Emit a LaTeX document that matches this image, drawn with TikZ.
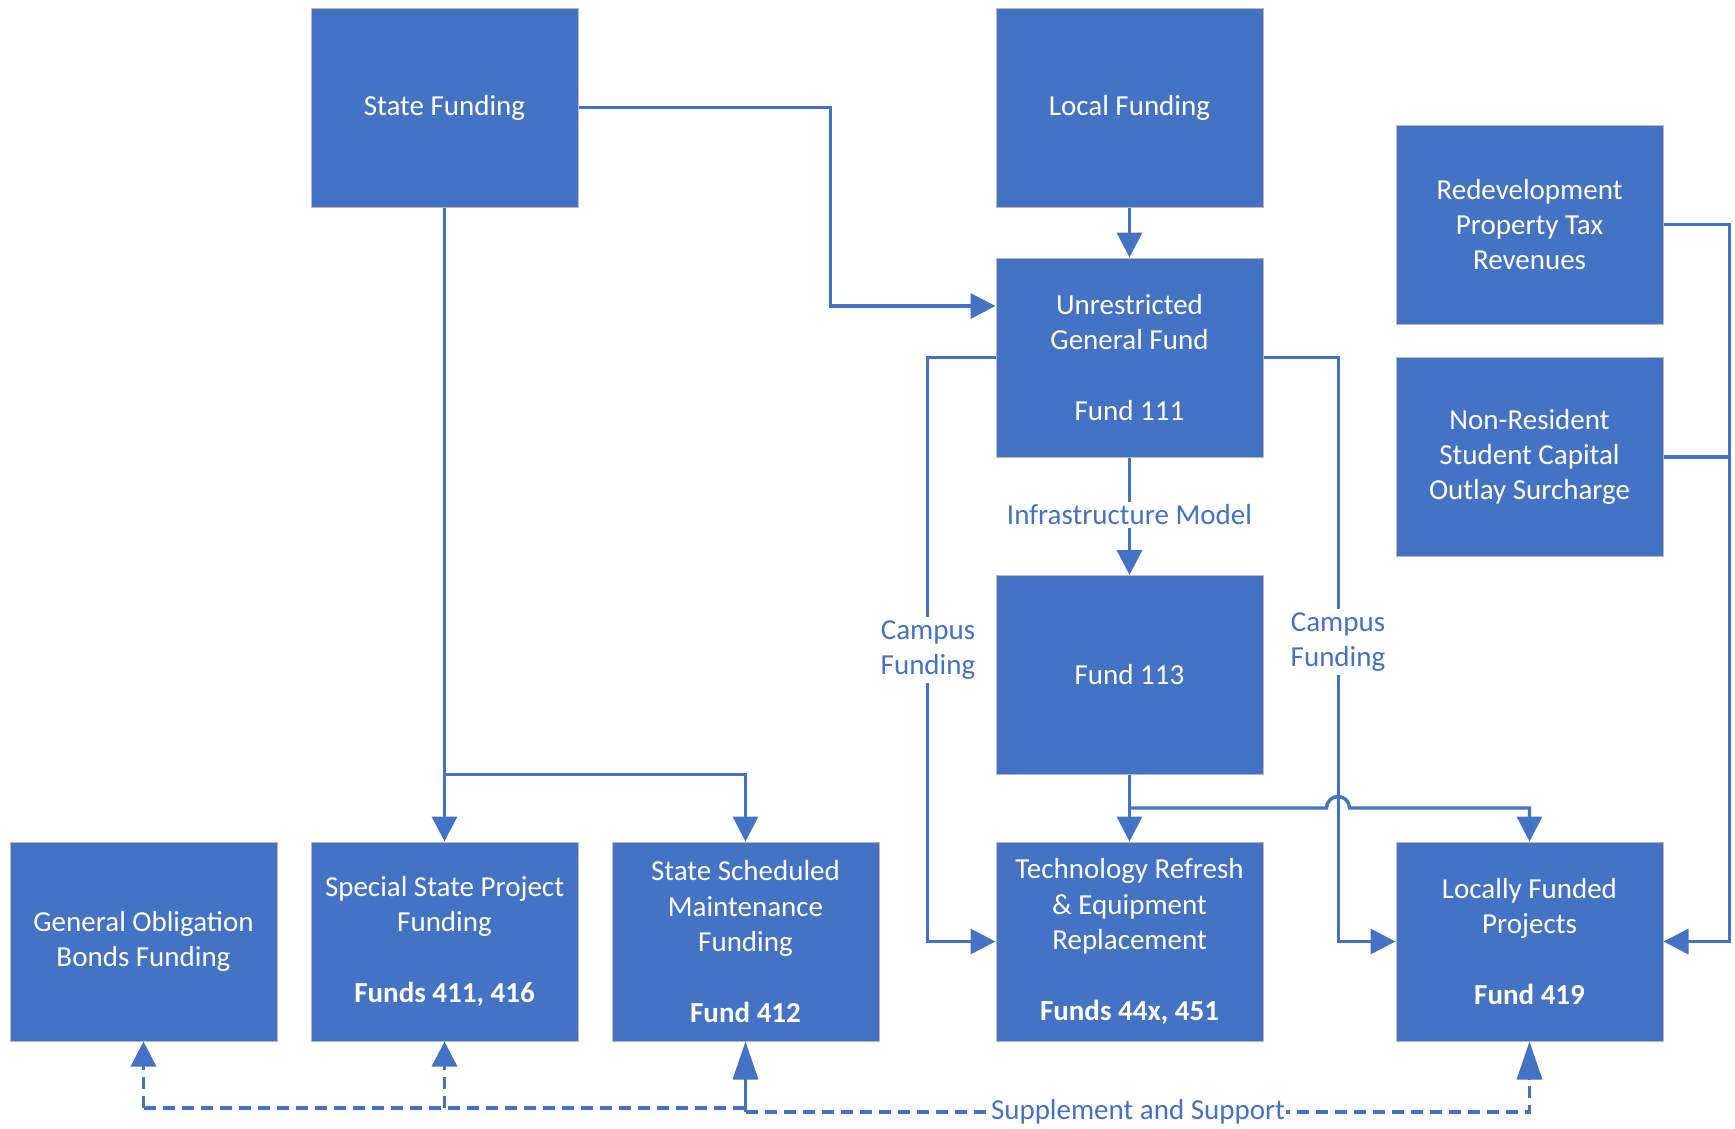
\documentclass[tikz,border=0pt]{standalone}
\usepackage{fontspec}
\setmainfont{Carlito}
\usetikzlibrary{arrows.meta}
\definecolor{cblue}{HTML}{4472C4}
\definecolor{cedge}{HTML}{B9B9B9}
\begin{document}
\begin{tikzpicture}[x=1pt,y=1pt,
  box/.style={rectangle, fill=cblue, draw=cedge, line width=1pt, minimum width=267pt, minimum height=199pt, inner sep=0pt, text=white, align=center, font=\fontsize{29}{35.4}\selectfont},
  conn/.style={draw=cblue, line width=3.4pt},
  arr/.style={-{Triangle[length=25pt,width=25pt]}},
  bigarr/.style={-{Triangle[length=38pt,width=25pt]}},
  lbl/.style={fill=white, text=cblue, inner xsep=2pt, inner ysep=3pt, align=center, font=\fontsize{29}{35.4}\selectfont},
  dashline/.style={dash pattern=on 12pt off 7pt}]
\fill[white] (0,0) rectangle (1735,-1128);
\useasboundingbox (0,0) rectangle (1735,-1128);

% boxes
\node[box] (sf) at (444.5,-107.5) {State Funding};
\node[box] (lf) at (1129.5,-107.5) {Local Funding};
\node[box] (ugf) at (1129.5,-357.5) {Unrestricted\\General Fund\\[35.4pt]Fund 111};
\node[box] (f113) at (1129.5,-675) {Fund 113};
\node[box] (rd) at (1529.5,-224.5) {Redevelopment\\Property Tax\\Revenues};
\node[box] (nr) at (1529.5,-457) {Non-Resident\\Student Capital\\Outlay Surcharge};
\node[box] (go) at (143.5,-941.5) {General Obligation\\Bonds Funding};
\node[box] (ss) at (444.5,-941.5) {Special State Project\\Funding\\[35.4pt]\textbf{Funds 411, 416}};
\node[box] (ssm) at (745.5,-941.5) {State Scheduled\\Maintenance\\Funding\\[35.4pt]\textbf{Fund 412}};
\node[box] (tr) at (1129.5,-941.5) {Technology Refresh\\\& Equipment\\Replacement\\[35.4pt]\textbf{Funds 44x, 451}};
\node[box] (lfp) at (1529.5,-941.5) {Locally Funded\\Projects\\[35.4pt]\textbf{Fund 419}};

% connectors
\draw[conn,arr] (sf.east) -- ++(252,0) |- ([yshift=51.5pt]ugf.west);
\draw[conn,arr] (lf.south) -- (ugf.north);
\draw[conn,arr] (sf.south) -- (ss.north);
\coordinate (sbr) at (444.5,-774.5);
\draw[conn,arr] (sbr) -| (ssm.north);

\draw[conn,arr] (ugf.west) -- ++(-68,0) |- (tr.west);
\draw[conn,arr] (ugf.east) -- ++(75,0) |- (lfp.west);
\draw[conn,arr] (ugf.south) -- (f113.north);

\draw[conn,arr] (f113.south) -- (tr.north);
\coordinate (fbr) at (1129.5,-808);
\coordinate (hop) at (1326.5,-808);
\draw[conn,arr] (fbr) -- (hop) arc[start angle=180,end angle=0,radius=11.5pt] -| (lfp.north);

\draw[conn,arr] (rd.east) -- ++(66,0) |- (lfp.east);
\draw[conn] (nr.east) -- ++(66,0);

% supplement and support
\coordinate (d1) at (143.5,-1108);
\coordinate (d2) at (444.5,-1108);
\coordinate (d3) at (745.5,-1108);
\coordinate (d4) at (745.5,-1112);
\coordinate (d5) at (1529.5,-1112);
\draw[conn,dashline] (d1) -- (d3);
\draw[conn,dashline,arr] (d1) -- (go.south);
\draw[conn,dashline,arr] (d2) -- (ss.south);
\draw[conn,bigarr] (d4) -- (ssm.south);
\draw[conn,dashline,bigarr] (d4) -- (d5) -- (lfp.south);

% labels
\node[lbl] (im) at (1129.5,-515) {Infrastructure Model};
\node[lbl] (cf1) at (928,-650) {Campus\\Funding};
\node[lbl] (cf2) at (1338,-642) {Campus\\Funding};
\node[lbl, inner xsep=1pt] (sup) at (1138,-1112) {Supplement and Support};
\end{tikzpicture}
\end{document}
